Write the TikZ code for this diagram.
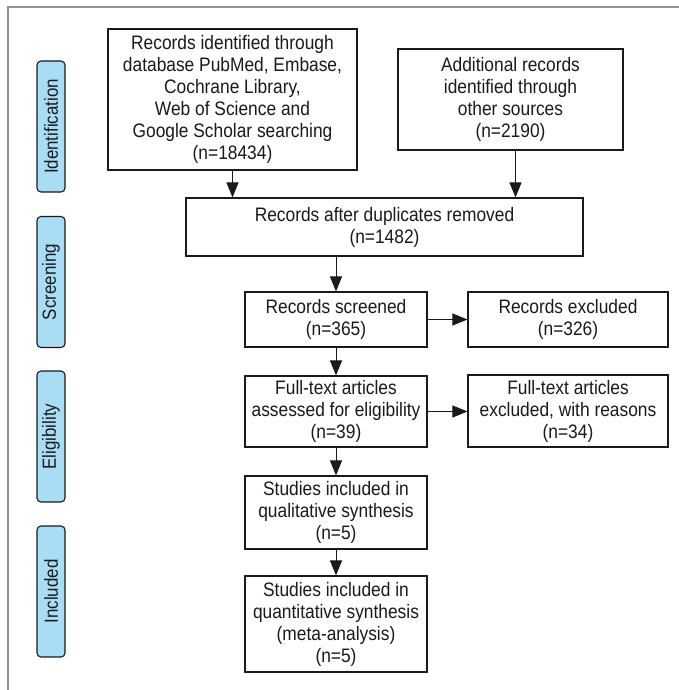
\documentclass[tikz,border=0pt]{standalone}
\usepackage{fontspec}
\setmainfont{Liberation Sans}[FakeStretch=0.89]
\usetikzlibrary{arrows.meta,calc}
\definecolor{stagefill}{HTML}{A9DDF6}
\definecolor{inkgray}{HTML}{1A1A1A}
\tikzset{
  box/.style={draw=inkgray, line width=1.1pt, fill=white, align=center,
    inner sep=0pt, text=inkgray,
    font=\fontsize{19.5}{22}\selectfont},
  stage/.style={draw=inkgray, line width=1.1pt, fill=stagefill,
    rounded corners=4pt, rotate=90, inner sep=0pt, minimum height=28,
    minimum width=131, text=inkgray, font=\fontsize{19}{22}\selectfont},
  arr/.style={draw=inkgray, line width=1pt,
    -{Triangle[length=15pt,width=12pt]}},
}
\begin{document}
\begin{tikzpicture}[x=1pt,y=-1pt]
\useasboundingbox (0,0) rectangle (678,690);
% outer frame
\draw[line width=1.4pt, draw=gray!85] (8,692) -- (8,7) -- (680,7);

% phase labels
\node[stage] (sid) at (51,126.5) {Identification};
\node[stage] (ssc) at (51,282) {Screening};
\node[stage] (sel) at (51,436.5) {Eligibility};
\node[stage] (sin) at (51,591.5) {Included};

% flow boxes
\node[box, minimum width=249, minimum height=141] (b1) at (232.5,99.5)
  {Records identified through\\database PubMed, Embase,\\Cochrane Library,\\Web of Science and\\Google Scholar searching\\(n=18434)};
\node[box, minimum width=225, minimum height=101] (b2) at (510.5,99.5)
  {Additional records\\identified through\\other sources\\(n=2190)};
\node[box, minimum width=397, minimum height=58] (b3) at (384.5,227)
  {Records after duplicates removed\\(n=1482)};
\node[box, minimum width=182, minimum height=55] (b4) at (336,319.5)
  {Records screened\\(n=365)};
\node[box, minimum width=200, minimum height=55] (b5) at (568,319.5)
  {Records excluded\\(n=326)};
\node[box, minimum width=182, minimum height=71] (b6) at (336,411.5)
  {Full-text articles\\assessed for eligibility\\(n=39)};
\node[box, minimum width=200, minimum height=72] (b7) at (568,411)
  {Full-text articles\\excluded, with reasons\\(n=34)};
\node[box, minimum width=182, minimum height=73] (b8) at (336,512.5)
  {Studies included in\\qualitative synthesis\\(n=5)};
\node[box, minimum width=182, minimum height=96] (b9) at (336,624)
  {Studies included in\\quantitative synthesis\\(meta-analysis)\\(n=5)};

% connectors
\draw[arr] (b1.south) -- (b1.south |- b3.north);
\draw[arr] ([xshift=5pt]b2.south) -- ([xshift=5pt]b2.south |- b3.north);
\draw[arr] (b3.south -| b4.north) -- (b4.north);
\draw[arr] (b4.east) -- (b5.west);
\draw[arr] (b4.south) -- (b6.north);
\draw[arr] (b6.east) -- (b7.west |- b6.east);
\draw[arr] (b6.south) -- (b8.north);
\draw[arr] (b8.south) -- (b9.north);
\end{tikzpicture}
\end{document}
